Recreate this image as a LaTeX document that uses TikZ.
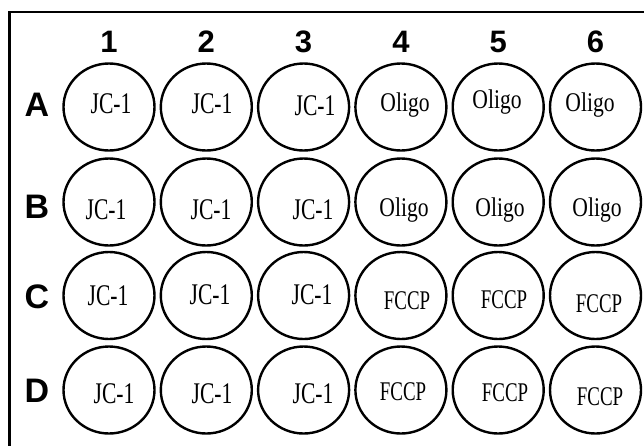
\documentclass[tikz,border=0pt]{standalone}
\usepackage{fontspec}
\setmainfont{Liberation Serif}
\setsansfont{Liberation Sans}
\usetikzlibrary{shapes.geometric}
\newcommand\wellJC{\scalebox{0.72}[1]{JC-1}}
\newcommand\wellOL{\scalebox{0.8}[1]{Oligo}}
\newcommand\wellFC{\scalebox{0.7}[1]{FCCP}}
\begin{document}
\begin{tikzpicture}[x=1pt,y=-1pt,
  well/.style={draw,ellipse,line width=2.4pt,minimum width=91pt,minimum height=87pt,inner sep=0pt},
  hdr/.style={font=\fontsize{31}{31}\selectfont\sffamily\bfseries,inner sep=0pt,anchor=center},
  rowhdr/.style={font=\fontsize{34}{34}\selectfont\sffamily\bfseries,inner sep=0pt,anchor=center},
  jc/.style={font=\fontsize{30}{30}\selectfont,inner sep=0pt,anchor=center},
  ol/.style={font=\fontsize{27}{27}\selectfont,inner sep=0pt,anchor=center},
  fc/.style={font=\fontsize{27}{27}\selectfont,inner sep=0pt,anchor=center}]
\useasboundingbox (0,0) rectangle (644,445);
\clip (0,0) rectangle (644,445);
\fill[white] (0,0) rectangle (644,445);
\draw[line width=2.8pt] (9.5,12) rectangle (700,500);
% column headers
\foreach \c/\x in {1/109,2/206.3,3/303.6,4/400.9,5/498.2,6/595.5}
  \node[hdr] (h\c) at (\x,42) {\c};
% row headers
\foreach \r/\y in {A/105,B/207,C/297,D/391}
  \node[rowhdr] (r\r) at (37,\y) {\r};
% wells
\foreach \r/\y in {A/107,B/202,C/295.5,D/390}
  \foreach \c/\x in {1/109,2/206.3,3/303.6,4/400.9,5/498.2,6/595.5}
    \node[well] (w\r\c) at (\x,\y) {};
% texts
\node[jc] (tA1) at (111,104) {\wellJC};
\node[jc] (tA2) at (212,104) {\wellJC};
\node[jc] (tA3) at (315,106) {\wellJC};
\node[ol] (tA4) at (405,105) {\wellOL};
\node[ol] (tA5) at (497,102) {\wellOL};
\node[ol] (tA6) at (590,105) {\wellOL};
\node[jc] (tB1) at (106,210) {\wellJC};
\node[jc] (tB2) at (211,210) {\wellJC};
\node[jc] (tB3) at (313,210) {\wellJC};
\node[ol] (tB4) at (404,210) {\wellOL};
\node[ol] (tB5) at (500,210) {\wellOL};
\node[ol] (tB6) at (597,210) {\wellOL};
\node[jc] (tC1) at (108,296) {\wellJC};
\node[jc] (tC2) at (210,295) {\wellJC};
\node[jc] (tC3) at (312,295) {\wellJC};
\node[fc] (tC4) at (407,301) {\wellFC};
\node[fc] (tC5) at (504,300) {\wellFC};
\node[fc] (tC6) at (599,304) {\wellFC};
\node[jc] (tD1) at (114,394) {\wellJC};
\node[jc] (tD2) at (212,394) {\wellJC};
\node[jc] (tD3) at (313,394) {\wellJC};
\node[fc] (tD4) at (403,392) {\wellFC};
\node[fc] (tD5) at (505,393) {\wellFC};
\node[fc] (tD6) at (600,397) {\wellFC};
\end{tikzpicture}
\end{document}
